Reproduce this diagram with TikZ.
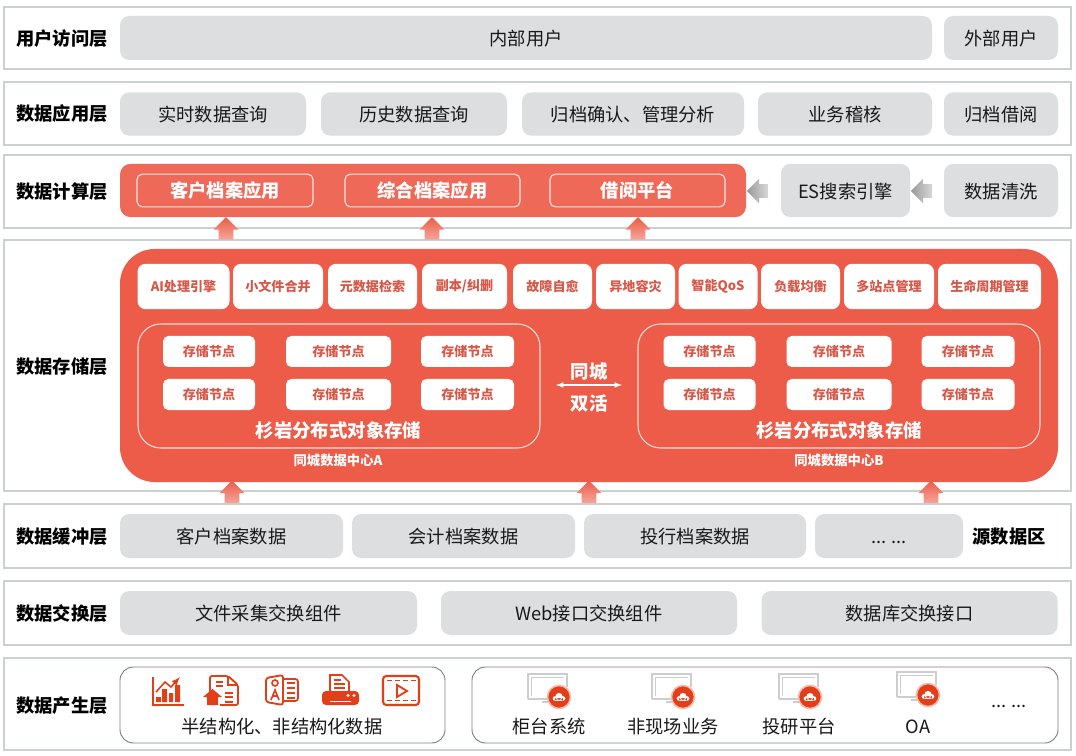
\documentclass[tikz,border=0pt]{standalone}
\usepackage{fontspec}
\setmainfont{Noto Sans CJK SC}
\usetikzlibrary{shapes.arrows,calc}
\definecolor{bandline}{RGB}{205,208,208}
\definecolor{greybox}{RGB}{221,222,224}
\definecolor{redbox}{RGB}{236,92,72}
\definecolor{redtext}{RGB}{214,88,72}
\definecolor{iconred}{RGB}{226,62,24}
\definecolor{monline}{RGB}{205,205,205}
\tikzset{
band/.style={draw=bandline,line width=1.6pt,fill=white,inner sep=0pt},
layer/.style={font=\bfseries\fontsize{13.7}{15}\selectfont,text=black,inner sep=0pt},
grey/.style={fill=greybox,rounded corners=7pt,inner sep=0pt,font=\fontsize{13.7}{15}\selectfont,text=black!90,text height=11.5pt,text depth=0pt},
outbox/.style={draw=black!50,line width=.7pt,fill=white,rounded corners=10pt,inner sep=0pt},
app/.style={draw=white!85!redbox,line width=.8pt,rounded corners=4pt,inner sep=0pt,text=white,font=\bfseries\fontsize{13.7}{15}\selectfont},
chip/.style={fill=white,rounded corners=6pt,inner sep=0pt,text=redtext,font=\bfseries\fontsize{9.8}{11}\selectfont},
stor/.style={fill=white,rounded corners=4pt,inner sep=0pt,text=redtext,font=\bfseries\fontsize{9.8}{11}\selectfont,minimum height=23.25pt},
group/.style={draw=white!80!redbox,line width=.8pt,rounded corners=17pt,inner sep=0pt},
wtitle/.style={text=white,inner sep=0pt,font=\bfseries\fontsize{13.8}{15}\selectfont},
wsmall/.style={text=white,inner sep=0pt,font=\bfseries\fontsize{10}{11}\selectfont},
plain/.style={inner sep=0pt,font=\fontsize{13.7}{15}\selectfont,text=black!90},
uparr/.style={single arrow,single arrow head extend=4pt,shape border rotate=90,minimum height=17pt,inner sep=5.25pt,top color=redbox,bottom color=redbox!55!white,draw=none},
leftarr/.style={single arrow,single arrow head extend=4pt,shape border rotate=180,minimum height=16pt,inner ysep=5pt,inner xsep=0pt,left color=black!40,right color=black!15,draw=none},
monitor/.pic={
\draw[monline,line width=1.2pt] (-20,9)--(-20,-16)--(19,-16)--(19,-3);
\draw[monline,line width=.6pt] (-17,6)--(-17,-13)--(16,-13);
\draw[monline,line width=1.2pt] (-20,9)--(2,9);
\draw[monline,line width=.8pt] (-6,12)--(2,12);
\draw[fill=iconred,draw=iconred!35!white,line width=1.2pt] (11,7) circle[radius=11.5];
\fill[white] (7,8.5) circle[radius=2.3] (11,6.5) circle[radius=3.6] (15,8.5) circle[radius=2.3] (7,8) rectangle (15,10.8);
},
}
\begin{document}
\begin{tikzpicture}[x=.75pt,y=-.75pt]
\useasboundingbox (0,0) rectangle (1076,756);
\fill[white] (0,0) rectangle (1076,756);
% bands
\draw[band] (4,7) rectangle (1071,69);
\draw[band] (4,82) rectangle (1071,145);
\draw[band] (4,155) rectangle (1071,228);
\draw[band] (4,240) rectangle (1071,491);
\draw[band] (4,504) rectangle (1071,568);
\draw[band] (4,581) rectangle (1071,645);
\draw[band] (4,658) rectangle (1071,750);
% layer names
\node[layer] (l1) at (62,38.5) {用户访问层};
\node[layer] (l2) at (62,113.5) {数据应用层};
\node[layer] (l3) at (62,191.5) {数据计算层};
\node[layer] (l4) at (62,366.5) {数据存储层};
\node[layer] (l5) at (62,536.5) {数据缓冲层};
\node[layer] (l6) at (62,613.5) {数据交换层};
\node[layer] (l7) at (62,705.5) {数据产生层};
% user
\node[grey,minimum width=609pt,minimum height=33pt] (inner) at (526,38) {内部用户};
\node[grey,minimum width=85.5pt,minimum height=33pt] (outer) at (1001,38) {外部用户};
% apps
\node[grey,minimum width=139.5pt,minimum height=32.5pt] (a1) at (213,114) {实时数据查询};
\node[grey,minimum width=139.5pt,minimum height=32.5pt] (a2) at (414,114) {历史数据查询};
\node[grey,minimum width=166.5pt,minimum height=32.5pt] (a3) at (633,114) {归档确认、管理分析};
\node[grey,minimum width=130.5pt,minimum height=32.5pt] (a4) at (845,114) {业务稽核};
\node[grey,minimum width=85.5pt,minimum height=32.5pt] (a5) at (1001,114) {归档借阅};
% compute
\node[fill=redbox!92!white,rounded corners=8pt,minimum width=469.5pt,minimum height=40pt,inner sep=0pt] (calc) at (433,190.5) {};
\node[app,minimum width=132pt,minimum height=24.5pt] (c1) at (225,190.5) {客户档案应用};
\node[app,minimum width=131.25pt,minimum height=24.5pt] (c2) at (432.5,190.5) {综合档案应用};
\node[app,minimum width=131.25pt,minimum height=24.5pt] (c3) at (637.5,190.5) {借阅平台};
\node[grey,minimum width=96.75pt,minimum height=40pt] (es) at (845.5,190.5) {ES搜索引擎};
\node[grey,minimum width=85.5pt,minimum height=40pt] (clean) at (1001,190.5) {数据清洗};
\node[leftarr] (la1) at (761,191) {};
\node[leftarr] (la2) at (925,191) {};
% storage
\node[fill=redbox,rounded corners=26pt,minimum width=703.5pt,minimum height=174.75pt,inner sep=0pt] (store) at (589,365.5) {};
\node[chip,minimum width=69pt,minimum height=34pt] (s1) at (183.5,286.5) {AI处理引擎};
\node[chip,minimum width=67.5pt,minimum height=34pt] (s2) at (278,286.5) {小文件合并};
\node[chip,minimum width=66.75pt,minimum height=34pt] (s3) at (372.5,286.5) {元数据检索};
\node[chip,minimum width=63.75pt,minimum height=34pt] (s4) at (464.5,286.5) {副本/纠删};
\node[chip,minimum width=59.25pt,minimum height=34pt] (s5) at (552.5,286.5) {故障自愈};
\node[chip,minimum width=59.25pt,minimum height=34pt] (s6) at (635.5,286.5) {异地容灾};
\node[chip,minimum width=59.25pt,minimum height=34pt] (s7) at (718,286.5) {智能QoS};
\node[chip,minimum width=59.25pt,minimum height=34pt] (s8) at (800.5,286.5) {负载均衡};
\node[chip,minimum width=67.5pt,minimum height=34pt] (s9) at (889,286.5) {多站点管理};
\node[chip,minimum width=77.25pt,minimum height=34pt] (s10) at (989.5,286.5) {生命周期管理};
\node[group,minimum width=301.5pt,minimum height=93pt] (dca) at (339,386) {};
\node[group,minimum width=301.5pt,minimum height=93pt] (dcb) at (839,386) {};
\foreach \dx/\nm in {0/a,500.5/b}{
\node[stor,minimum width=69pt] (n\nm1) at (209+\dx,351.5) {存储节点};
\node[stor,minimum width=78.75pt] (n\nm2) at (338.5+\dx,351.5) {存储节点};
\node[stor,minimum width=69.75pt] (n\nm3) at (467.5+\dx,351.5) {存储节点};
\node[stor,minimum width=69pt] (n\nm4) at (209+\dx,394.5) {存储节点};
\node[stor,minimum width=78.75pt] (n\nm5) at (338.5+\dx,394.5) {存储节点};
\node[stor,minimum width=69.75pt] (n\nm6) at (467.5+\dx,394.5) {存储节点};
\node[wtitle] (t\nm) at (338.5+\dx,430) {杉岩分布式对象存储};
}
\node[wsmall] (cena) at (338,460) {同城数据中心A};
\node[wsmall] (cenb) at (839,460) {同城数据中心B};
\node[wtitle] (same) at (589,371) {同城};
\node[wtitle] (live) at (589,403) {双活};
\coordinate (dl) at (556,385);
\coordinate (dr) at (622,385);
\draw[<->,>=latex,white,line width=.9pt] (dl)--(dr);
% up arrows
\node[uparr] (u1) at (226,232) {};
\node[uparr] (u2) at (432,232) {};
\node[uparr] (u3) at (638,232) {};
\node[uparr] (u4) at (232,495.5) {};
\node[uparr] (u5) at (589,495.5) {};
\node[uparr] (u6) at (931,495.5) {};
% buffer
\node[grey,minimum width=167.25pt,minimum height=33pt] (b1) at (231.5,536) {客户档案数据};
\node[grey,minimum width=167.25pt,minimum height=33pt] (b2) at (463.5,536) {会计档案数据};
\node[grey,minimum width=166.5pt,minimum height=33pt] (b3) at (695,536) {投行档案数据};
\node[grey,minimum width=111pt,minimum height=33pt] (b4) at (889,536) {.{}.{}. .{}.{}.};
\node[layer] (src) at (1009,536.5) {源数据区};
% exchange
\node[grey,minimum width=222.75pt,minimum height=33pt] (e1) at (268.5,613) {文件采集交换组件};
\node[grey,minimum width=222pt,minimum height=33pt] (e2) at (589,613) {Web接口交换组件};
\node[grey,minimum width=222pt,minimum height=33pt] (e3) at (909.5,613) {数据库交换接口};
% source
\node[outbox,minimum width=243.75pt,minimum height=57pt] (semi) at (282.5,705) {};
\node[outbox,minimum width=439.5pt,minimum height=57pt] (sys) at (765,705) {};
\node[plain] (semit) at (282,727) {半结构化、非结构化数据};
% chart
\draw[iconred,line width=1pt] (153,677)--(153,705)--(184,705);
\draw[iconred,line width=1.2pt,->,>=latex] (156,692)--(165,682)--(171,687)--(180,677);
\fill[iconred] (156,697) rectangle (161,702) (162,689) rectangle (167,702) (169,693) rectangle (173,702) (175,685) rectangle (180,702);
% doc with arrow
\draw[iconred,line width=1.4pt,rounded corners=1.5pt,fill=white] (210,692)--(210,676)--(228,676)--(238,685)--(238,705)--(220,705);
\draw[iconred,line width=1.1pt] (228,676)--(228,685)--(238,685) (216,682)--(223,682) (216,686)--(223,686) (225,693)--(233,693) (225,697)--(233,697) (225,702)--(233,702);
\fill[iconred] (203,697)--(212.5,689)--(222,697)--(218,697)--(218,705)--(207,705)--(207,697)--cycle;
% card
\draw[iconred,line width=1.3pt,rounded corners=2pt] (283,679)--(298,679)--(298,701)--(283,701);
\draw[iconred,line width=1.4pt,fill=white,rounded corners=2pt] (266,678)--(283,675)--(283,705)--(266,702)--cycle;
\draw[iconred,line width=1.2pt] (275,683) circle[radius=3] (271,700)--(275,690)--(279,700) (272,696)--(278,696);
\draw[iconred,line width=1.2pt] (287,683)--(295,683) (287,688)--(295,688) (287,693)--(295,693) (287,698)--(295,698);
% printer
\draw[iconred,line width=1.2pt,fill=white] (330,691)--(330,675)--(342,675)--(349,682)--(349,691);
\draw[iconred,line width=1.1pt] (334,680)--(341,680) (334,684)--(345,684) (334,688)--(345,688);
\fill[iconred,rounded corners=3pt] (322,691) rectangle (359,705);
\draw[white,line width=1pt] (330,701.5)--(351,701.5);
\fill[white] (348,695.5) circle[radius=1.6] (354,695.5) circle[radius=1.6];
% video
\draw[iconred,line width=1.6pt,rounded corners=2.5pt] (383,676) rectangle (419,705);
\draw[iconred,line width=1.2pt,dash pattern=on 4pt off 2pt] (387,680.5)--(416,680.5) (387,700.5)--(416,700.5);
\draw[iconred,line width=1.4pt] (397,685)--(407,691)--(397,697)--cycle;
% monitors
\foreach \mx/\my in {548/690,672/690,799/690,917/688}{
\pic at (\mx,\my) {monitor};
}
\node[plain] (st1) at (549,727) {柜台系统};
\node[plain] (st2) at (673,727) {非现场业务};
\node[plain] (st3) at (799,727) {投研平台};
\node[plain] (st4) at (918,727) {OA};
\node[plain] (st5) at (1009,706) {.{}.{}. .{}.{}.};
\end{tikzpicture}
\end{document}
